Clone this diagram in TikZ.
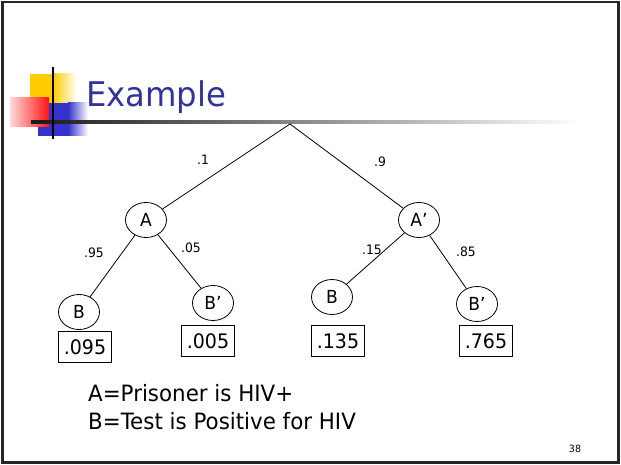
\documentclass[tikz,border=0pt]{standalone}
\usepackage{fontspec}
\setmainfont[FakeStretch=0.95]{DejaVu Sans}
\usetikzlibrary{shapes.geometric}
\definecolor{titleblue}{RGB}{51,51,153}
\definecolor{logoyellow}{RGB}{255,204,0}
\definecolor{logored}{RGB}{255,20,20}
\definecolor{logoblue}{RGB}{51,51,204}

\begin{document}
\begin{tikzpicture}[x=1pt, y=-1pt,
  every node/.style={font=\fontsize{18}{20}\selectfont},
  event/.style={draw, ellipse, line width=0.8pt, inner sep=0pt, minimum width=41pt, minimum height=35pt},
  prob/.style={font=\fontsize{13}{14}\selectfont, inner sep=0pt},
  result/.style={draw, line width=0.8pt, minimum width=53pt, minimum height=31pt, inner sep=1pt, font=\fontsize{20}{22}\selectfont}]
  \useasboundingbox (0,0) rectangle (621,465);

  % Marco
  \draw[line width=2.5pt, black!85] (2.5,2) rectangle (618.5,462.5);

  % Logo
  \fill[logoyellow] (30,74) rectangle (53,103);
  \shade[left color=logoyellow, right color=white] (53,74) rectangle (77,103);
  \fill[logoblue] (38,103) rectangle (68,136);
  \shade[left color=logoblue, right color=white] (68,103) rectangle (88,136);
  \shade[left color=red!15, right color=logored] (10,98) rectangle (49,127);
  \shade[left color=black!90, right color=white] (31,120.5) rectangle (580,123.5);
  \draw[line width=2.5pt] (53,67) -- (53,139);

  % Titulo
  \node[anchor=base west, inner sep=0pt, text=titleblue, font=\fontsize{34}{36}\selectfont] (title) at (86,107) {Example};

  % Arbol
  \coordinate (root) at (290,124);
  \node[event] (A)   at (146,220) {A};
  \node[event] (Ap)  at (419,220) {A’};
  \node[event] (B1)  at (79,312)  {B};
  \node[event] (Bp1) at (213,303) {B’};
  \node[event] (B2)  at (332,297) {B};
  \node[event] (Bp2) at (477,304) {B’};

  \draw[line width=0.8pt] (root) -- (A);
  \draw[line width=0.8pt] (root) -- (Ap);
  \draw[line width=0.8pt] (A) -- (B1);
  \draw[line width=0.8pt] (A) -- (Bp1);
  \draw[line width=0.8pt] (Ap) -- (B2);
  \draw[line width=0.8pt] (Ap) -- (Bp2);

  % Probabilidades
  \node[prob] (p1)  at (203,160) {.1};
  \node[prob] (p9)  at (380,162) {.9};
  \node[prob] (p95) at (94,253)  {.95};
  \node[prob] (p05) at (191,248) {.05};
  \node[prob] (p15) at (372,250) {.15};
  \node[prob] (p85) at (466,252) {.85};

  % Resultados
  \node[result] (r1) at (85,347)  {.095};
  \node[result] (r2) at (208,341) {.005};
  \node[result] (r3) at (338,341) {.135};
  \node[result] (r4) at (486,341) {.765};

  % Leyenda
  \node[anchor=base west, inner sep=0pt, font=\fontsize{22.5}{24}\selectfont] (legA) at (88,401) {A=Prisoner is HIV+};
  \node[anchor=base west, inner sep=0pt, font=\fontsize{22.5}{24}\selectfont] (legB) at (88,429) {B=Test is Positive for HIV};

  \node[font=\fontsize{10}{12}\selectfont] (page) at (575,449) {38};
\end{tikzpicture}
\end{document}
